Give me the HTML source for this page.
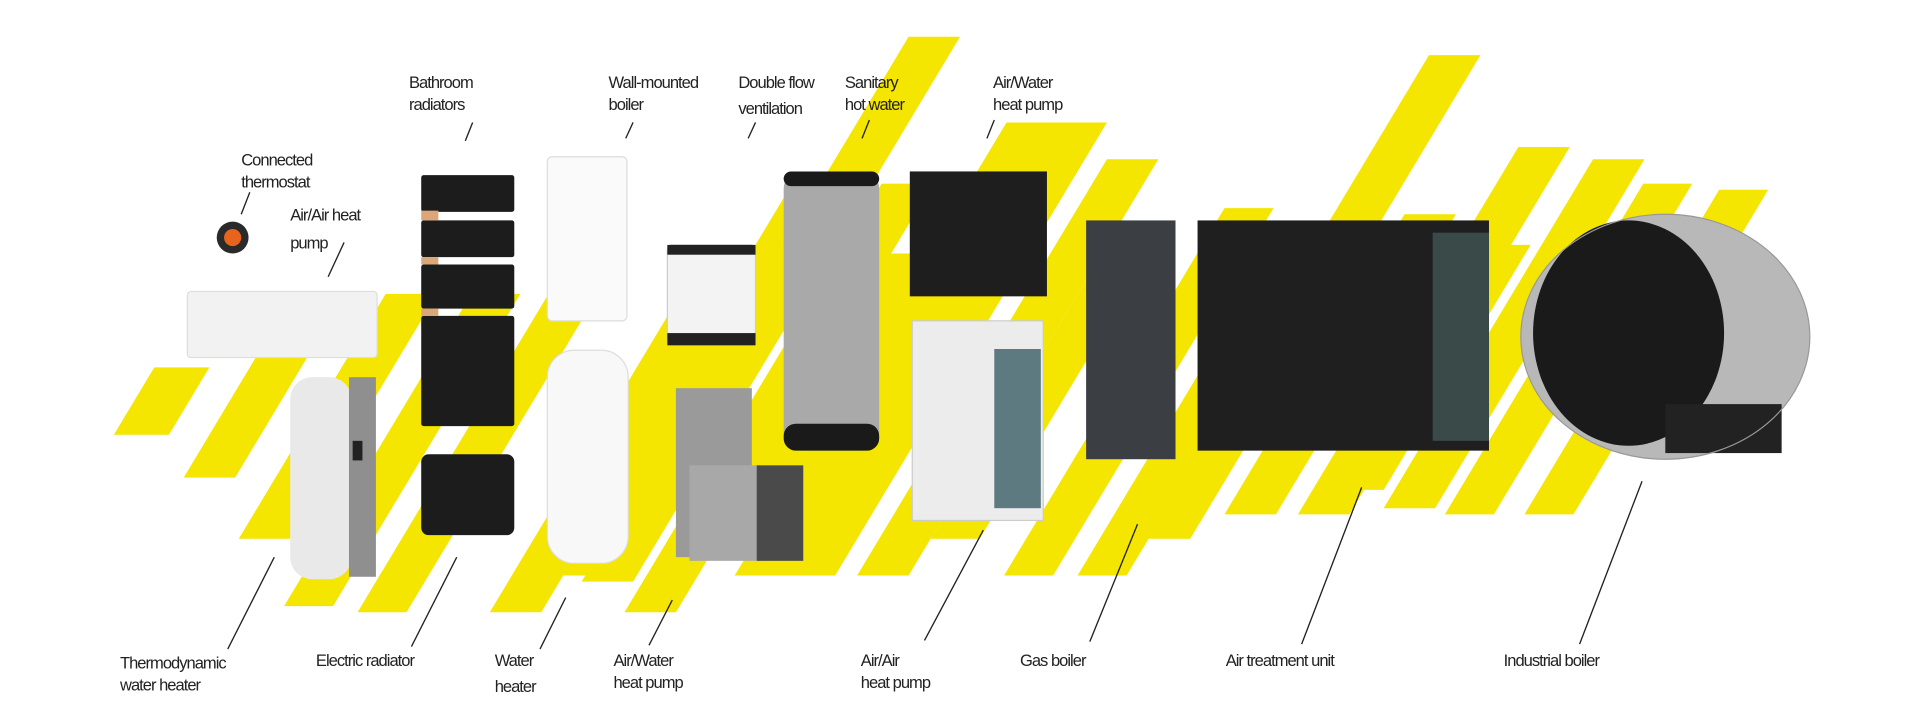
<!DOCTYPE html>
<html><head><meta charset="utf-8"><style>
html,body{margin:0;padding:0;background:#fff;}
svg{display:block;}
text{font-family:"Liberation Sans",sans-serif;font-size:13.5px;fill:#222;letter-spacing:-0.8px;}
</style></head><body>
<svg width="1920" height="728" viewBox="0 0 1568 594.5" preserveAspectRatio="none" xmlns="http://www.w3.org/2000/svg">
<rect width="1568" height="594.5" fill="#fff"/>
<g fill="#f4e600">
<polygon points="93,355 138,355 171,300 126,300"/>
<polygon points="150,390 192,390 276,250 234,250"/>
<polygon points="195,440 237,440 357,240 315,240"/>
<polygon points="232,495 272,495 425,240 385,240"/>
<polygon points="292,500 332,500 494,230 454,230"/>
<polygon points="400,500 442,500 622,200 580,200"/>
<polygon points="455,470 495,470 681,160 641,160"/>
<polygon points="510,500 552,500 762,150 720,150"/>
<polygon points="475,475 517,475 784,30 742,30"/>
<polygon points="600,470 642,470 864,100 822,100"/>
<polygon points="640,470 682,470 904,100 862,100"/>
<polygon points="700,470 742,470 946,130 904,130"/>
<polygon points="820,470 860,470 1040,170 1000,170"/>
<polygon points="880,470 920,470 1082,200 1042,200"/>
<polygon points="930,440 972,440 1209,45 1167,45"/>
<polygon points="1000,420 1042,420 1189,175 1147,175"/>
<polygon points="1060,420 1102,420 1282,120 1240,120"/>
<polygon points="1130,415 1172,415 1343,130 1301,130"/>
<polygon points="1180,420 1220,420 1382,150 1342,150"/>
<polygon points="1245,420 1285,420 1444,155 1404,155"/>
<polygon points="760,440 800,440 950,190 910,190"/>
<polygon points="1090,400 1130,400 1250,200 1210,200"/>
<polygon points="580,440 620,440 760,207 720,207"/>
</g>
<circle cx="190" cy="194" r="13" fill="#2a2a2a"/><circle cx="190" cy="194" r="7" fill="#e8641c"/>
<rect x="153" y="238" width="155" height="54" rx="3" fill="#f2f2f2" stroke="#ddd"/>
<rect x="237" y="308" width="50" height="165" rx="18" fill="#e9e9e9"/>
<rect x="285" y="308" width="22" height="163" fill="#8f8f8f"/>
<rect x="288" y="360" width="8" height="16" fill="#222"/>
<g fill="#1c1c1c">
<rect x="344" y="143" width="76" height="30" rx="2"/><rect x="344" y="180" width="76" height="30" rx="2"/>
<rect x="344" y="216" width="76" height="36" rx="2"/><rect x="344" y="258" width="76" height="90" rx="2"/>
<rect x="344" y="371" width="76" height="66" rx="6"/>
</g>
<rect x="344" y="172" width="14" height="8" fill="#d9a77a"/><rect x="344" y="210" width="14" height="6" fill="#d9a77a"/><rect x="344" y="252" width="14" height="6" fill="#d9a77a"/>
<rect x="447" y="128" width="65" height="134" rx="4" fill="#fafafa" stroke="#ddd"/>
<rect x="447" y="286" width="66" height="174" rx="22" fill="#f8f8f8" stroke="#ddd"/>
<rect x="545" y="200" width="72" height="82" rx="4" fill="#f3f3f3" stroke="#ccc"/>
<rect x="545" y="200" width="72" height="8" fill="#222"/><rect x="545" y="272" width="72" height="10" fill="#222"/>
<rect x="552" y="317" width="62" height="138" fill="#9a9a9a"/>
<rect x="563" y="380" width="58" height="78" fill="#a8a8a8"/><rect x="618" y="380" width="38" height="78" fill="#4a4a4a"/>
<rect x="640" y="140" width="78" height="228" rx="14" fill="#a9a9a9"/>
<rect x="640" y="140" width="78" height="12" rx="6" fill="#1a1a1a"/><rect x="640" y="346" width="78" height="22" rx="10" fill="#1a1a1a"/>
<rect x="743" y="140" width="112" height="102" fill="#1e1e1e"/>
<rect x="745" y="262" width="107" height="163" fill="#ececec" stroke="#ccc"/>
<rect x="812" y="285" width="38" height="130" fill="#5c7a80"/>
<rect x="887" y="180" width="73" height="195" fill="#3b3f44"/>
<rect x="978" y="180" width="238" height="188" fill="#1f1f1f"/>
<rect x="1170" y="190" width="46" height="170" fill="#3a4a48"/>
<ellipse cx="1360" cy="275" rx="118" ry="100" fill="#b8b8b8"/>
<ellipse cx="1330" cy="272" rx="78" ry="92" fill="#1a1a1a"/>
<rect x="1360" y="330" width="95" height="40" fill="#222"/>
<ellipse cx="1360" cy="275" rx="118" ry="100" fill="none" stroke="#999"/>
<g stroke="#222" stroke-width="1.1">
<line x1="204" y1="157" x2="197" y2="175"/><line x1="281" y1="198" x2="268" y2="226"/>
<line x1="386" y1="100" x2="380" y2="115"/><line x1="517" y1="100" x2="511" y2="113"/>
<line x1="617" y1="100" x2="611" y2="113"/><line x1="710" y1="98" x2="704" y2="113"/>
<line x1="812" y1="98" x2="806" y2="113"/>
<line x1="224" y1="455" x2="186" y2="530"/><line x1="373" y1="455" x2="336" y2="528"/>
<line x1="462" y1="488" x2="441" y2="530"/><line x1="549" y1="490" x2="530" y2="527"/>
<line x1="803" y1="433" x2="755" y2="523"/><line x1="929" y1="428" x2="890" y2="524"/>
<line x1="1112" y1="398" x2="1063" y2="526"/><line x1="1341" y1="393" x2="1290" y2="526"/>
</g>
<text x="197" y="135">Connected</text><text x="197" y="153">thermostat</text>
<text x="237" y="180">Air/Air heat</text><text x="237" y="203">pump</text>
<text x="334" y="72">Bathroom</text><text x="334" y="90">radiators</text>
<text x="497" y="72">Wall-mounted</text><text x="497" y="90">boiler</text>
<text x="603" y="72">Double flow</text><text x="603" y="93">ventilation</text>
<text x="690" y="72">Sanitary</text><text x="690" y="90">hot water</text>
<text x="811" y="72">Air/Water</text><text x="811" y="90">heat pump</text>
<text x="98" y="546">Thermodynamic</text><text x="98" y="564">water heater</text>
<text x="258" y="544">Electric radiator</text>
<text x="404" y="544">Water</text><text x="404" y="565">heater</text>
<text x="501" y="544">Air/Water</text><text x="501" y="562">heat pump</text>
<text x="703" y="544">Air/Air</text><text x="703" y="562">heat pump</text>
<text x="833" y="544">Gas boiler</text>
<text x="1001" y="544">Air treatment unit</text>
<text x="1228" y="544">Industrial boiler</text>
</svg>
</body></html>
